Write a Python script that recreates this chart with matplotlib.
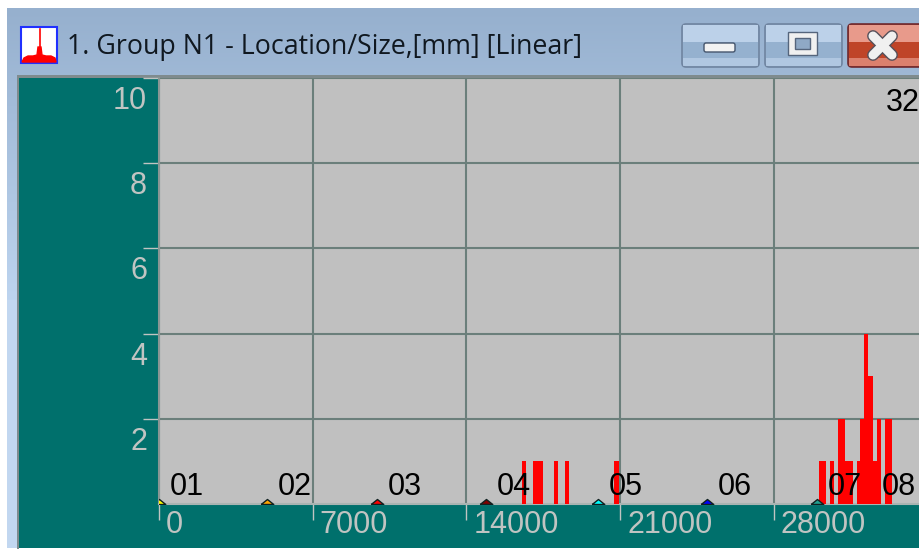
import matplotlib
matplotlib.use("Agg")
import matplotlib.pyplot as plt
import numpy as np
from matplotlib.patches import Rectangle, FancyBboxPatch

W, H = 919, 552
#--------------------------------------
# data
bar_from = [16545, 17030, 17990, 18490, 20720, 30055, 30555, 30920, 31260, 31770, 31922, 32104, 32286, 32536, 32696, 33060]
bar_to = [16712, 17486, 18170, 18670, 20947, 30373, 30738, 31260, 31590, 31922, 32104, 32286, 32536, 32696, 32878, 33379]
bar_count = [1, 1, 1, 1, 1, 1, 1, 2, 1, 1, 2, 4, 3, 1, 2, 2]
marker_loc = [0, 4920, 9930, 14890, 19990, 24950, 29960, 34970]
marker_col = ["#ffff00", "#ffa500", "#ff0000", "#800000", "#00ffff", "#0000ff", "#20a090", "#808000"]
marker_name = ["01", "02", "03", "04", "05", "06", "07", "08"]
x_ticks = [0, 7000, 14000, 21000, 28000]
y_ticks = [2, 4, 6, 8, 10]
title = "1. Group N1 - Location/Size,[mm] [Linear]"
x_max = 34608
y_max = 10
label_limit = 32923

TEAL = "#00706c"
LIGHT = "#c0c4c2"
GRID = "#6b7f7b"
NUM = {"family": "Liberation Sans", "fontsize": 22}

fig = plt.figure(figsize=(W / 100, H / 100), dpi=100, facecolor="white")

#--------------------------------------
# window chrome, in pixels
bg = fig.add_axes([0, 0, 1, 1])
bg.axis("off")
grad = np.linspace(0, 1, 256).reshape(-1, 1)
top = np.array([0x96, 0xb0, 0xce]) / 255
bot = np.array([0xbd, 0xd4, 0xef]) / 255
bg.imshow(top + grad[..., None] * (bot - top), extent=(7, W, 300, 8), aspect="auto", zorder=0)
bg.add_patch(Rectangle((7, 300), 12, 248, fc="#c2d7f0", ec="none", zorder=0))
bg.set_xlim(0, W)
bg.set_ylim(H, 0)
bg.add_patch(Rectangle((17, 75), W - 17, 3, fc="#7f8b8e", ec="none", zorder=1))
bg.add_patch(Rectangle((17, 75), 2, 474, fc="#7f8b8e", ec="none", zorder=1))
bg.add_patch(Rectangle((19, 78), W - 19, 470, fc=TEAL, ec="none", zorder=1))
bg.text(67, 47, title, family="Open Sans", fontsize=19.3, color="#101820", va="center", ha="left")

# icon
bg.add_patch(Rectangle((21, 27), 36, 36, fc="white", ec="#2030ff", lw=1.5, zorder=2))
icon_x = [22, 24, 28, 33, 37, 38, 41, 42, 46, 51, 55, 56]
icon_y = [62, 58, 56, 56, 55, 47, 47, 55, 56, 56, 58, 62]
bg.fill(icon_x, icon_y, color="#ff0000", zorder=3)
bg.plot([39.5, 39.5], [29, 55], color="#ff0000", lw=1.2, zorder=3)


# title bar buttons
def button(x0, x1, up, low, edge):
    box = FancyBboxPatch((x0, 24), x1 - x0, 43, boxstyle="round,pad=0,rounding_size=4", fc=low, ec=edge, lw=1.2, zorder=2)
    bg.add_patch(box)
    upper = Rectangle((x0 + 1, 25), x1 - x0 - 2, 17, fc=up, ec="none", zorder=3)
    bg.add_patch(upper)
    bg.add_patch(Rectangle((x0 + 1, 58), x1 - x0 - 2, 8, fc=up, ec="none", alpha=0.7, zorder=3))


button(682, 759, "#bcd1e9", "#95b1cf", "#6f84a0")
button(765, 842, "#bcd1e9", "#95b1cf", "#6f84a0")
button(848, 930, "#e89a8b", "#bf4428", "#6e2a30")
bg.add_patch(FancyBboxPatch((704, 43), 31, 9, boxstyle="round,pad=0,rounding_size=2", fc="#f2f2f2", ec="#45556c", lw=1, zorder=4))
bg.add_patch(Rectangle((788, 32), 29, 23, fc="#f0f0f0", ec="#55657c", lw=1, zorder=4))
bg.add_patch(Rectangle((795, 38), 15, 11, fc="#8fa9c6", ec="#55657c", lw=1, zorder=5))
bg.plot([873, 892], [36, 55], color="#55505a", lw=8.5, solid_capstyle="round", zorder=4)
bg.plot([873, 892], [55, 36], color="#55505a", lw=8.5, solid_capstyle="round", zorder=4)
bg.plot([873, 892], [36, 55], color="#f0f0f0", lw=6.5, solid_capstyle="round", zorder=5)
bg.plot([873, 892], [55, 36], color="#f0f0f0", lw=6.5, solid_capstyle="round", zorder=5)

#--------------------------------------
# the histogram itself
ax = fig.add_axes([159 / W, (H - 504) / H, (W - 159) / W, (504 - 78) / H])
ax.set_facecolor("#c0c0c0")
ax.set_xlim(0, x_max)
ax.set_ylim(0, y_max)
ax.grid(True, color=GRID, lw=1.5)
ax.set_axisbelow(True)
for s in ["top", "right"]:
    ax.spines[s].set_visible(False)
ax.spines["left"].set_color("#8a9694")
ax.spines["left"].set_linewidth(1.5)
ax.spines["bottom"].set_color("#a9b4b2")
ax.spines["bottom"].set_linewidth(1.5)

ax.set_xticks(x_ticks)
ax.set_yticks(y_ticks)
ax.set_xticklabels([])
ax.set_yticklabels([])
ax.tick_params(axis="both", length=11.5, width=1, color=LIGHT)

left = np.array(bar_from)
width = np.array(bar_to) - left
ax.bar(left, bar_count, width=width, align="edge", color="#ff0000", linewidth=0, antialiased=False, zorder=3)

# flat little triangles sitting on the axis
tri = [(-1, 0), (0, 0.8), (1, 0), (-1, 0)]
for m, c in zip(marker_loc, marker_col):
    ax.plot([m], [0], linestyle="none", marker=tri, ms=9, mfc=c, mew=1, mec="#102020", zorder=4)

for m, n in zip(marker_loc, marker_name):
    ax.annotate(n, xy=(min(m + 500, label_limit), 0), xytext=(0, 2), textcoords="offset pixels", color="black", ha="left", va="bottom", zorder=5, annotation_clip=False, **NUM)

for t in x_ticks:
    ax.annotate(str(t), xy=(t, 0), xytext=(7, -6), textcoords="offset pixels", color=LIGHT, ha="left", va="top", annotation_clip=False, **NUM)
for t in y_ticks:
    ax.annotate(str(t), xy=(0, t), xytext=(-12, -8), textcoords="offset pixels", color=LIGHT, ha="right", va="top", annotation_clip=False, **NUM)

ax.text(886, H - 88, "32", transform=None, color="black", ha="left", va="top", **NUM)

plt.savefig("out.png", dpi=100)
